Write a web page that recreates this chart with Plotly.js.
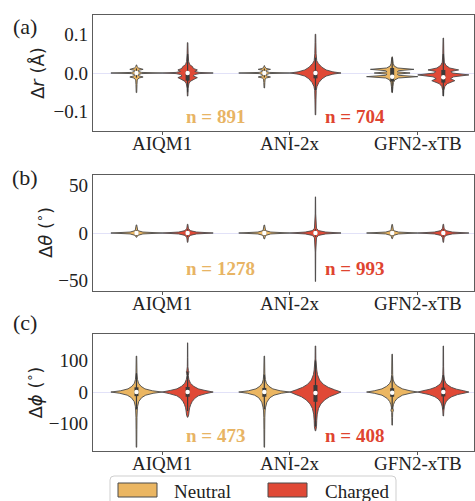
<!DOCTYPE html>
<html>
<head>
<meta charset="utf-8">
<script src="https://cdn.plot.ly/plotly-3.0.1.min.js"></script>
<style>html,body{margin:0;padding:0;background:#fff;}#chart{width:475px;height:501px;}</style>
</head>
<body>
<div id="chart"></div>
<script>
// ---------------- DATA ----------------
const categories = ['AIQM1', 'ANI-2x', 'GFN2-xTB'];
const groups = ['Neutral', 'Charged'];

// sample counts
const nNeutral = [891, 1278, 473];
const nCharged = [704, 993, 408];

// Panel (a): Δr (Å) — violin density profiles (y levels, relative half-width)
const rNeutralY = [
  [-0.051,-0.03,-0.018,-0.013,-0.0105,-0.007,-0.004,-0.0015,0,0.0015,0.004,0.007,0.0095,0.013,0.017,0.021],
  [-0.039,-0.025,-0.016,-0.013,-0.0105,-0.007,-0.004,-0.0015,0,0.0015,0.004,0.007,0.0095,0.012,0.016,0.019],
  [-0.051,-0.035,-0.025,-0.018,-0.013,-0.0095,-0.006,-0.003,0,0.003,0.006,0.0095,0.013,0.018,0.025,0.042]
];
const rNeutralW = [
  [0.01,0.02,0.03,0.1,0.26,0.08,0.08,0.2,1.0,0.2,0.08,0.08,0.26,0.08,0.02,0.01],
  [0.01,0.02,0.03,0.08,0.24,0.07,0.08,0.2,1.0,0.2,0.08,0.07,0.24,0.07,0.02,0.01],
  [0.01,0.03,0.05,0.1,0.25,1.0,0.25,0.2,0.7,0.2,0.25,0.85,0.22,0.08,0.04,0.01]
];
const rChargedY = [
  [-0.060,-0.04,-0.028,-0.022,-0.016,-0.012,-0.008,-0.004,-0.0015,0,0.0015,0.004,0.008,0.012,0.016,0.022,0.03,0.05,0.079],
  [-0.109,-0.07,-0.045,-0.035,-0.025,-0.015,-0.008,-0.003,0,0.003,0.008,0.015,0.025,0.032,0.05,0.08,0.101],
  [-0.060,-0.045,-0.035,-0.028,-0.02,-0.015,-0.01,-0.005,0,0.004,0.008,0.013,0.02,0.028,0.05,0.091]
];
const rChargedW = [
  [0.01,0.02,0.05,0.1,0.26,0.38,0.22,0.28,0.45,1.0,0.45,0.28,0.38,0.22,0.2,0.08,0.04,0.02,0.01],
  [0.01,0.02,0.03,0.06,0.13,0.26,0.42,0.68,1.0,0.68,0.42,0.25,0.11,0.05,0.025,0.015,0.01],
  [0.01,0.02,0.06,0.15,0.45,0.28,0.4,1.0,0.35,0.3,0.6,0.25,0.1,0.04,0.02,0.01]
];
// box stats: [q1, median, q3, whiskerLow, whiskerHigh]
const rNeutralBox = [[-0.004,0,0.004,-0.012,0.012],[-0.004,0,0.004,-0.012,0.012],[-0.022,-0.01,0.013,-0.05,0.04]];
const rChargedBox = [[-0.02,0,0.004,-0.05,0.05],[-0.014,0,0.006,-0.045,0.04],[-0.025,-0.011,0.008,-0.06,0.05]];

// Panel (b): Δθ (°)
const tNeutralY = [
  [-4.5,-2.5,-1,0,1,2.5,8.5],
  [-6.3,-2.5,-1,0,1,2.5,8.4],
  [-6,-2.5,-1,0,1,2.5,9]
];
const tNeutralW = [
  [0.01,0.05,0.25,1,0.25,0.05,0.01],
  [0.01,0.05,0.25,1,0.25,0.05,0.01],
  [0.01,0.05,0.25,1,0.25,0.05,0.01]
];
const tChargedY = [
  [-9.8,-5,-2.5,-1,0,1,2.5,5,9.2],
  [-51,-20,-5,-2.5,-1,0,1,2.5,5,20,38],
  [-9.8,-5,-2.5,-1,0,1,2.5,5,9.2]
];
const tChargedW = [
  [0.01,0.03,0.1,0.35,1,0.35,0.1,0.03,0.01],
  [0.005,0.01,0.04,0.12,0.4,1,0.4,0.12,0.04,0.01,0.005],
  [0.01,0.03,0.1,0.35,1,0.35,0.1,0.03,0.01]
];
const tNeutralBox = [[-0.6,0,0.6,-3,3],[-0.6,0,0.6,-3,3],[-0.6,0,0.6,-3,3]];
const tChargedBox = [[-0.8,0,0.8,-4,4],[-0.8,0,0.8,-4,4],[-0.8,0,0.8,-4,4]];

// Panel (c): Δϕ (°)
const pNeutralY = [
  [-175,-120,-80,-60,-45,-30,-18,-10,-4,0,4,10,18,28,40,60,114],
  [-175,-120,-80,-60,-48,-32,-18,-10,-4,0,4,10,18,28,40,60,114],
  [-105,-80,-65,-60,-57,-54,-48,-40,-30,-20,-10,-4,0,4,10,18,27,38,55,120]
];
const pNeutralW = [
  [0.01,0.015,0.02,0.03,0.045,0.09,0.2,0.36,0.65,1.0,0.62,0.33,0.18,0.08,0.04,0.02,0.01],
  [0.01,0.015,0.02,0.03,0.05,0.1,0.22,0.38,0.66,1.0,0.62,0.33,0.18,0.08,0.04,0.02,0.01],
  [0.01,0.015,0.02,0.04,0.05,0.03,0.03,0.05,0.1,0.2,0.4,0.7,1.0,0.7,0.4,0.22,0.1,0.04,0.02,0.01]
];
const pChargedY = [
  [-80,-73,-60,-50,-40,-30,-20,-12,-5,0,5,10,18,28,40,52,60,64,68,80,110,156],
  [-123,-110,-90,-70,-52,-38,-25,-15,-7,0,7,15,25,38,55,70,92,105,146],
  [-76,-60,-47,-38,-31,-22,-15,-8,-3,0,4,9,15,22,28,38,55,80,146]
];
const pChargedW = [
  [0.01,0.04,0.06,0.08,0.12,0.18,0.28,0.42,0.72,1.0,0.68,0.42,0.24,0.11,0.05,0.025,0.04,0.05,0.03,0.012,0.008,0.005],
  [0.01,0.04,0.05,0.07,0.12,0.21,0.36,0.55,0.8,1.0,0.75,0.5,0.3,0.16,0.08,0.05,0.03,0.015,0.01],
  [0.01,0.02,0.04,0.07,0.11,0.2,0.33,0.56,0.85,1.0,0.8,0.52,0.31,0.18,0.1,0.05,0.02,0.012,0.008]
];
const pNeutralBox = [[-13,0,15,-55,60],[-15,0,13,-55,55],[-15,-2,12,-55,50]];
const pChargedBox = [[-15,0,16,-60,65],[-31,-3,22,-110,100],[-14,0,14,-55,55]];

// tick labels
const rTickVals = [-0.1, 0, 0.1];
const rTickText = ['\u22120.1', '0.0', '0.1'];
const tTickVals = [-50, 0, 50];
const tTickText = ['\u221250', '0', '50'];
const pTickVals = [-100, 0, 100];
const pTickText = ['\u2212100', '0', '100'];

// ---------------- STYLE ----------------
const W = 475, H = 501;
const px = v => v / W;
const py = v => 1 - v / H;
const colors = { Neutral: '#ebb662', Charged: '#e04936' };
const textColors = { Neutral: '#e8b464', Charged: '#df4430' };
const edge = '#4a4a4a';
const serif = 'Liberation Serif, Times New Roman, serif';
const halfWidth = 0.2, dodge = 0.2;

const panels = [
  { key: '', nY: rNeutralY, nW: rNeutralW, cY: rChargedY, cW: rChargedW, nB: rNeutralBox, cB: rChargedBox,
    top: 15, bot: 131, range: [-0.151, 0.151], tv: rTickVals, tt: rTickText,
    title: '\u0394<i>r</i> (\u00c5)', titleX: 38, label: '(a)', labelY: 27, nIdx: 0, nLabelY: 116 },
  { key: '2', nY: tNeutralY, nW: tNeutralW, cY: tChargedY, cW: tChargedW, nB: tNeutralBox, cB: tChargedBox,
    top: 175, bot: 291, range: [-61, 61], tv: tTickVals, tt: tTickText,
    title: '\u0394<i>\u03b8</i> (<sup>\u2218</sup>)', titleX: 44, label: '(b)', labelY: 177, nIdx: 1, nLabelY: 268 },
  { key: '3', nY: pNeutralY, nW: pNeutralW, cY: pChargedY, cW: pChargedW, nB: pNeutralBox, cB: pChargedBox,
    top: 334, bot: 451, range: [-187, 184], tv: pTickVals, tt: pTickText,
    title: '\u0394<i>\u03d5</i> (<sup>\u2218</sup>)', titleX: 34, label: '(c)', labelY: 322, nIdx: 2, nLabelY: 435 }
];

const traces = [];
const layout = {
  width: W, height: H,
  margin: { l: 0, r: 0, t: 0, b: 0, pad: 0 },
  paper_bgcolor: '#fff', plot_bgcolor: '#fff',
  showlegend: false,
  annotations: [], shapes: []
};

function violin(xa, ya, pos, ys, ws, box, color) {
  const xs = [], yy = [];
  for (let i = 0; i < ys.length; i++) { xs.push(pos + ws[i] * halfWidth); yy.push(ys[i]); }
  for (let i = ys.length - 1; i >= 0; i--) { xs.push(pos - ws[i] * halfWidth); yy.push(ys[i]); }
  xs.push(xs[0]); yy.push(yy[0]);
  traces.push({ type: 'scatter', mode: 'lines', x: xs, y: yy, xaxis: xa, yaxis: ya,
    fill: 'toself', fillcolor: color, line: { color: edge, width: 0.9, simplify: false }, hoverinfo: 'skip' });
  // whisker
  traces.push({ type: 'scatter', mode: 'lines', x: [pos, pos], y: [box[3], box[4]], xaxis: xa, yaxis: ya,
    line: { color: '#3a3a3a', width: 1.2 }, hoverinfo: 'skip' });
  // box
  traces.push({ type: 'scatter', mode: 'lines', x: [pos, pos], y: [box[0], box[2]], xaxis: xa, yaxis: ya,
    line: { color: '#3a3a3a', width: 4 }, hoverinfo: 'skip' });
  // median
  traces.push({ type: 'scatter', mode: 'markers', x: [pos], y: [box[1]], xaxis: xa, yaxis: ya,
    marker: { color: '#ffffff', size: 4.5, line: { width: 0 } }, hoverinfo: 'skip' });
}

panels.forEach(p => {
  const xa = 'x' + p.key, ya = 'y' + p.key;
  categories.forEach((c, i) => {
    violin(xa, ya, i - dodge, p.nY[i], p.nW[i], p.nB[i], colors.Neutral);
    violin(xa, ya, i + dodge, p.cY[i], p.cW[i], p.cB[i], colors.Charged);
    // category tick label, placed through the x scale
    layout.annotations.push({ xref: xa, yref: 'paper', x: i, y: py(p.bot + 12.5),
      text: c, showarrow: false, xanchor: 'center', yanchor: 'middle',
      font: { family: serif, size: 19, color: '#222' } });
  });
  layout['xaxis' + p.key] = {
    domain: [px(93), px(474)], anchor: ya, range: [-0.54, 2.44],
    tickmode: 'array', tickvals: [0, 1, 2], ticktext: categories, showticklabels: false,
    ticks: 'outside', ticklen: 3, tickwidth: 1, tickcolor: '#555',
    showline: true, mirror: true, linecolor: '#5c5c5c', linewidth: 1.2,
    showgrid: false, zeroline: false, fixedrange: true
  };
  layout['yaxis' + p.key] = {
    domain: [py(p.bot), py(p.top)], anchor: xa, range: p.range,
    tickmode: 'array', tickvals: p.tv, ticktext: p.tt, ticks: '',
    showline: true, mirror: true, linecolor: '#5c5c5c', linewidth: 1.2,
    showgrid: false, zeroline: true, zerolinecolor: '#e2e2f8', zerolinewidth: 1,
    fixedrange: true,
    tickfont: { family: serif, size: 19, color: '#222' }
  };
  // y title
  layout.annotations.push({ xref: 'paper', yref: 'paper', x: px(p.titleX), y: py((p.top + p.bot) / 2),
    text: p.title, textangle: -90, showarrow: false, xanchor: 'center', yanchor: 'middle',
    font: { family: 'DejaVu Sans, sans-serif', size: 18, color: '#222' } });
  // panel label
  layout.annotations.push({ xref: 'paper', yref: 'paper', x: px(25), y: py(p.labelY),
    text: p.label, showarrow: false, xanchor: 'center', yanchor: 'middle',
    font: { family: serif, size: 22, color: '#222' } });
  // n labels
  layout.annotations.push({ xref: 'paper', yref: 'paper', x: px(184), y: py(p.nLabelY),
    text: '<b>n = ' + nNeutral[p.nIdx] + '</b>', showarrow: false, xanchor: 'left', yanchor: 'middle',
    font: { family: serif, size: 19, color: textColors.Neutral } });
  layout.annotations.push({ xref: 'paper', yref: 'paper', x: px(323), y: py(p.nLabelY),
    text: '<b>n = ' + nCharged[p.nIdx] + '</b>', showarrow: false, xanchor: 'left', yanchor: 'middle',
    font: { family: serif, size: 19, color: textColors.Charged } });
});

// legend (manual, bottom centre)
const r = 4, lx0 = 110, lx1 = 396, ly0 = 476, ly1 = 530;
layout.shapes.push({ type: 'path', xref: 'paper', yref: 'paper',
  path: `M ${px(lx0 + r)} ${py(ly0)} L ${px(lx1 - r)} ${py(ly0)} Q ${px(lx1)} ${py(ly0)} ${px(lx1)} ${py(ly0 + r)} L ${px(lx1)} ${py(ly1)} L ${px(lx0)} ${py(ly1)} L ${px(lx0)} ${py(ly0 + r)} Q ${px(lx0)} ${py(ly0)} ${px(lx0 + r)} ${py(ly0)} Z`,
  line: { color: '#cfcfcf', width: 1 }, fillcolor: '#fff' });
const legendItems = [
  { name: groups[0], sx: 118, tx: 172 },
  { name: groups[1], sx: 268, tx: 323 }
];
legendItems.forEach(it => {
  layout.shapes.push({ type: 'rect', xref: 'paper', yref: 'paper',
    x0: px(it.sx), x1: px(it.sx + 39), y0: py(497), y1: py(483),
    fillcolor: colors[it.name], line: { color: edge, width: 1 } });
  layout.annotations.push({ xref: 'paper', yref: 'paper', x: px(it.tx), y: py(491),
    text: it.name, showarrow: false, xanchor: 'left', yanchor: 'middle',
    font: { family: serif, size: 19, color: '#222' } });
});

Plotly.newPlot('chart', traces, layout, { staticPlot: true, displayModeBar: false });
</script>
</body>
</html>
